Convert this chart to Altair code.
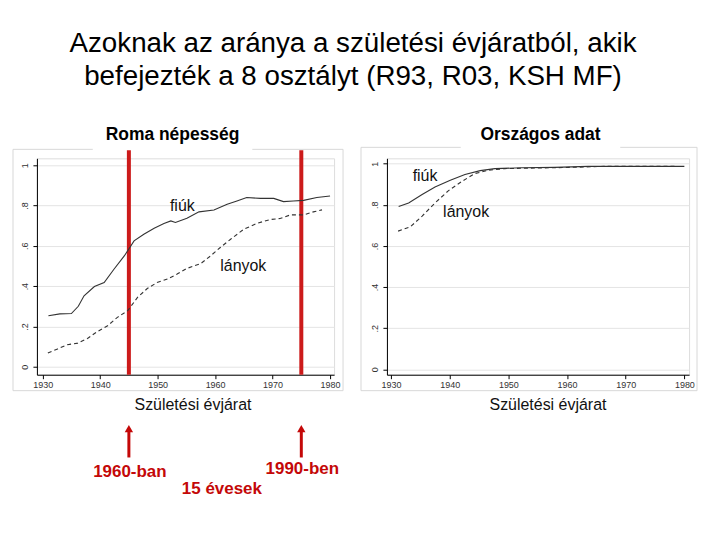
import altair as alt
import pandas as pd

# ---- data ----
roma_boys_year = [1931.0, 1933.0, 1935.0, 1936.2, 1937.2, 1939.0, 1940.7, 1942.4, 1944.2, 1945.9,
                  1947.6, 1949.4, 1951.1, 1952.3, 1953.1, 1955.1, 1957.2, 1959.8, 1962.1, 1963.8,
                  1965.5, 1967.9, 1970.2, 1971.9, 1973.6, 1975.4, 1977.7, 1980.0]
roma_boys_val = [0.253, 0.262, 0.264, 0.30, 0.352, 0.398, 0.418, 0.484, 0.55, 0.625,
                 0.658, 0.688, 0.711, 0.724, 0.716, 0.737, 0.769, 0.778, 0.807, 0.823,
                 0.84, 0.836, 0.836, 0.82, 0.823, 0.826, 0.84, 0.848]
roma_girls_year = [1930.9, 1932.6, 1934.3, 1936.1, 1937.8, 1939.5, 1941.3, 1943.0, 1944.8, 1946.5,
                   1948.2, 1949.9, 1951.7, 1953.4, 1955.1, 1957.5, 1959.2, 1960.9, 1962.7, 1965.0,
                   1967.3, 1969.6, 1971.3, 1973.1, 1975.4, 1977.1, 1978.6]
roma_girls_val = [0.068, 0.088, 0.109, 0.117, 0.14, 0.174, 0.203, 0.245, 0.278, 0.344,
                  0.388, 0.418, 0.435, 0.46, 0.488, 0.512, 0.55, 0.592, 0.633, 0.683,
                  0.712, 0.731, 0.736, 0.754, 0.754, 0.769, 0.779]

nat_boys_year = [1931.3, 1933.0, 1935.3, 1937.5, 1940.1, 1942.6, 1945.2, 1947.7, 1952.3, 1957.9, 1963.6, 1980.0]
nat_boys_val = [0.792, 0.809, 0.85, 0.887, 0.919, 0.947, 0.966, 0.976, 0.98, 0.982, 0.987, 0.987]
nat_girls_year = [1931.2, 1933.3, 1935.3, 1937.5, 1939.8, 1942.1, 1944.3, 1946.6, 1949.4, 1955.1, 1960.7, 1966.3, 1978.8]
nat_girls_val = [0.672, 0.693, 0.745, 0.809, 0.869, 0.914, 0.952, 0.968, 0.976, 0.979, 0.982, 0.987, 0.987]

marker_years = [1945, 1975]
marker_labels = ["1960-ban", "1990-ben"]
x_ticks = [1930, 1940, 1950, 1960, 1970, 1980]
y_ticks = [0, 0.2, 0.4, 0.6, 0.8, 1]
title_lines = ["Azoknak az aránya a születési évjáratból, akik",
               "befejezték a 8 osztályt (R93, R03, KSH MF)"]

RED = "#cc1a1a"
RED_TEXT = "#c40808"
FONT = "Liberation Sans"

W_L, W_R, H = 298, 303, 217


def series_df(years, vals, name):
    return pd.DataFrame({"year": years, "value": vals, "sex": name})


def make_axes(xdom, ydom, title_x):
    xenc = alt.X("year:Q", scale=alt.Scale(domain=xdom, nice=False, zero=False),
                 axis=alt.Axis(values=x_ticks, format="d", grid=False, title="Születési évjárat",
                               titleX=title_x, titlePadding=7, titleFontSize=16,
                               titleFontWeight="normal", titleColor="#111", labelFontSize=9,
                               labelColor="#333", tickSize=4, domainColor="#000", tickColor="#000"))
    yenc = alt.Y("value:Q", scale=alt.Scale(domain=ydom, nice=False, zero=False),
                 axis=alt.Axis(values=y_ticks, title=None, grid=True, gridColor="#e4e4e4",
                               labelExpr="datum.value == 0 ? '0' : datum.value == 1 ? '1' : replace(format(datum.value, '.1f'), '0.', '.')",
                               labelAngle=270, labelFontSize=9, labelColor="#333", tickSize=4,
                               labelPadding=3, domainColor="#000", tickColor="#000"))
    return xenc, yenc


def panel(boys, girls, xdom, ydom, width, title, title_x, lab_boys, lab_girls, axis_title_x,
          box, extra=None):
    xenc, yenc = make_axes(xdom, ydom, axis_title_x)
    boys_df = series_df(boys[0], boys[1], "fiúk")
    girls_df = series_df(girls[0], girls[1], "lányok")

    box_df = pd.DataFrame({"k": [0]})
    boxl = alt.Chart(box_df).mark_rect(fill=None, stroke="#d8d8d8", strokeWidth=1).encode(
        x=alt.value(box[0]), x2=alt.value(box[1]), y=alt.value(box[2]), y2=alt.value(box[3]))
    tbg = alt.Chart(box_df).mark_rect(fill="white").encode(
        x=alt.value(title_x - 80), x2=alt.value(title_x + 80), y=alt.value(-35), y2=alt.value(-8))
    ttl = alt.Chart(pd.DataFrame({"t": [title]})).mark_text(
        font=FONT, fontSize=17.5, fontWeight="bold", color="#000", baseline="middle").encode(
        text="t:N", x=alt.value(title_x), y=alt.value(-23))

    line_b = alt.Chart(boys_df).mark_line(color="#333", strokeWidth=1.1).encode(x=xenc, y=yenc)
    line_g = alt.Chart(girls_df).mark_line(color="#333", strokeWidth=1.1, strokeDash=[4, 3]).encode(x=xenc, y=yenc)

    lab_df = pd.DataFrame({"year": [lab_boys[0], lab_girls[0]], "value": [lab_boys[1], lab_girls[1]],
                           "t": ["fiúk", "lányok"]})
    labs = alt.Chart(lab_df).mark_text(font=FONT, fontSize=16, color="#111", baseline="middle").encode(
        x=xenc, y=yenc, text="t:N")

    layers = [boxl, tbg, ttl, line_b, line_g, labs]
    if extra is not None:
        layers = extra(xenc) + layers[:3] + extra_after(xenc) + layers[3:]
    return alt.layer(*layers).properties(width=width, height=H)


def extra_after(xenc):
    mdf = pd.DataFrame({"year": marker_years})
    red = alt.Chart(mdf).mark_rule(color=RED, strokeWidth=4).encode(
        x=xenc, y=alt.value(-8), y2=alt.value(H))
    return [red]


def extra_left(xenc):
    # invisible frame fixing the page bounds
    frame = alt.Chart(pd.DataFrame({"k": [0]})).mark_rect(opacity=0).encode(
        x=alt.value(-28), x2=alt.value(676), y=alt.value(-149), y2=alt.value(375))
    tdf = pd.DataFrame({"t": title_lines, "yy": [-106.5, -74]})
    tt = alt.Chart(tdf).mark_text(font=FONT, fontSize=27.8, color="#000", baseline="alphabetic").encode(
        text="t:N", x=alt.value(317), y=alt.Y("yy:Q", scale=None))
    mdf = pd.DataFrame({"year": marker_years, "t": marker_labels, "ty": [315, 312]})
    shaft = alt.Chart(mdf).mark_rule(color=RED_TEXT, strokeWidth=3).encode(
        x=xenc, y=alt.value(274), y2=alt.value(300))
    head = alt.Chart(mdf).mark_point(shape="triangle-up", filled=True, color=RED_TEXT, size=70, opacity=1).encode(
        x=xenc, y=alt.value(271))
    mlab = alt.Chart(mdf).mark_text(font=FONT, fontSize=17, fontWeight="bold", color=RED_TEXT,
                                    baseline="middle", dx=1).encode(
        x=xenc, y=alt.Y("ty:Q", scale=None), text="t:N")
    sub = alt.Chart(pd.DataFrame({"t": ["15 évesek"]})).mark_text(
        font=FONT, fontSize=17, fontWeight="bold", color=RED_TEXT, baseline="middle").encode(
        text="t:N", x=alt.value(185.5), y=alt.value(332))
    return [frame, tt, shaft, head, mlab, sub]


left = panel((roma_boys_year, roma_boys_val), (roma_girls_year, roma_girls_val),
             [1929.0, 1980.7], [-0.04, 1.035], W_L, "Roma népesség", 136,
             (1954.3, 0.797), (1964.9, 0.5), 156, (-24, 307, -9, 233), extra=extra_left)

right = panel((nat_boys_year, nat_boys_val), (nat_girls_year, nat_girls_val),
              [1929.3, 1980.8], [-0.026, 1.026], W_R, "Országos adat", 154,
              (1935.8, 0.939), (1942.8, 0.764), 161, (-26, 311, -11, 233))

chart = alt.hconcat(left, right, spacing=53, bounds="flush").properties(padding=0).configure_view(
    stroke=None).configure(font=FONT)

chart.save("out.html", embed_options={"renderer": "svg", "actions": False})
